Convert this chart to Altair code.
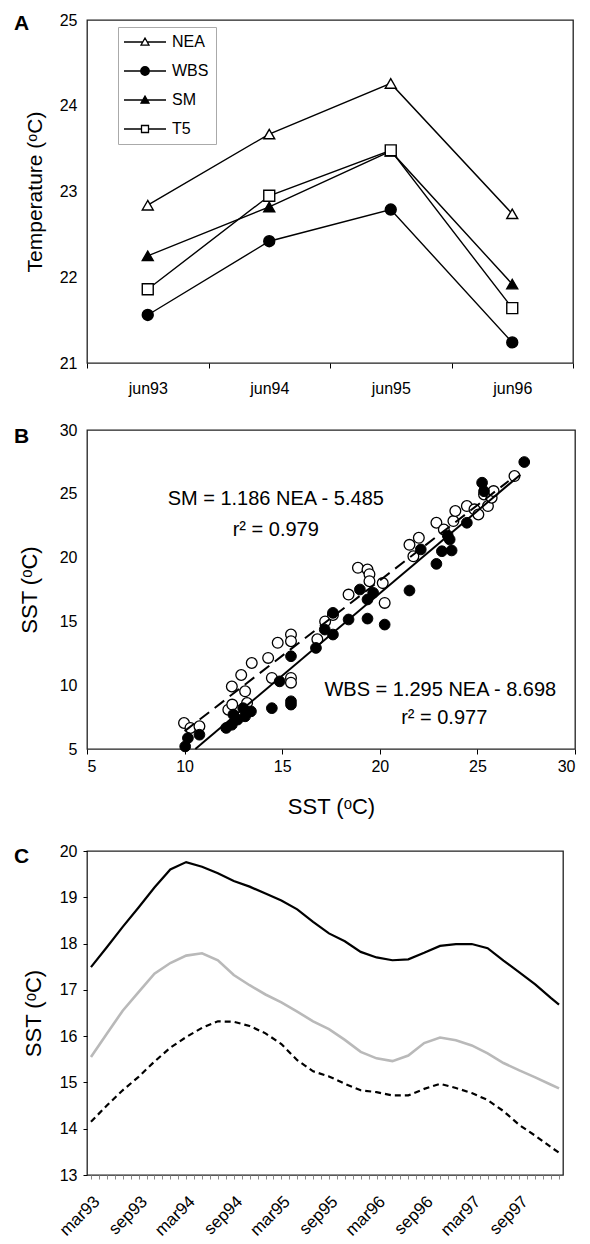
import altair as alt
import pandas as pd

FONT = "Liberation Sans"

# ---------------- Panel A data ----------------
years = ["jun93", "jun94", "jun95", "jun96"]
sites = ["NEA", "WBS", "SM", "T5"]
nea_a = [22.84, 23.67, 24.26, 22.74]
wbs_a = [21.56, 22.42, 22.79, 21.24]
sm_a = [22.25, 22.82, 23.47, 21.92]
t5_a = [21.86, 22.95, 23.48, 21.64]
site_shapes = ["triangle-up", "circle", "triangle-up", "square"]
site_fills = ["white", "black", "black", "white"]
site_strokes = ["black", "black", "black", "black"]
legend_paths = [
    "M-4.2,0H-0.45M0.45,0H4.2M0,-0.8L0.8,0.64L-0.8,0.64Z",
    "M-4.2,0H-0.85M0.85,0H4.2M0.85,0A0.85,0.85,0,1,1,-0.85,0A0.85,0.85,0,1,1,0.85,0Z",
    "M-4.2,0H-0.45M0.45,0H4.2M0,-0.8L0.8,0.64L-0.8,0.64Z",
    "M-4.2,0H-0.7M0.7,0H4.2M-0.7,-0.7H0.7V0.7H-0.7Z",
]
panel_letters = ["A", "B", "C"]

# ---------------- Panel B data ----------------
sm_x = [9.97, 10.3, 10.76, 12.24, 12.44, 12.42, 12.9, 13.1, 13.2, 13.44, 14.28, 14.77,
        15.45, 15.45, 14.47, 15.45, 15.45, 16.8, 17.2, 17.6, 18.4, 18.88, 19.37, 19.47,
        19.47, 20.15, 20.25, 21.52, 21.72, 22.0, 22.9, 23.28, 23.77, 23.87, 24.46, 24.85,
        25.05, 25.34, 25.54, 25.73, 25.83, 26.9]
sm_y = [7.04, 6.65, 6.78, 8.08, 8.48, 9.9, 10.8, 9.52, 8.6, 11.74, 12.14, 13.32,
        13.97, 13.45, 10.57, 10.57, 10.2, 13.6, 15.0, 15.5, 17.1, 19.2, 19.07, 18.7,
        18.15, 18.0, 16.45, 21.0, 20.1, 21.55, 22.73, 22.2, 22.86, 23.65, 24.04, 23.78,
        23.38, 24.95, 24.04, 24.69, 25.21, 26.39]
wbs_x = [10.03, 10.17, 10.76, 12.13, 12.42, 12.71, 13.1, 13.4, 13.0, 12.5, 14.47, 15.45,
         15.45, 15.45, 14.87, 16.73, 17.18, 17.6, 17.6, 18.4, 19.37, 20.25, 18.98, 19.37,
         19.66, 21.52, 22.1, 22.9, 23.18, 23.68, 23.58, 24.46, 25.24, 25.34, 27.4, 23.48]
wbs_y = [5.2, 5.86, 6.12, 6.65, 6.9, 7.3, 7.56, 7.95, 8.2, 7.7, 8.2, 8.74,
         8.48, 12.27, 10.3, 12.92, 14.36, 13.97, 15.67, 15.15, 15.22, 14.75, 17.5, 16.72,
         17.24, 17.42, 20.64, 19.51, 20.5, 20.56, 21.42, 22.73, 25.87, 25.2, 27.49, 21.73]
sm_fit_x = [10.0, 26.6]
sm_fit_y = [6.4, 26.0]
wbs_fit_x = [10.55, 27.2]
wbs_fit_y = [5.0, 26.5]
eq_text = ["SM = 1.186 NEA - 5.485", "r² = 0.979", "WBS = 1.295 NEA - 8.698", "r² = 0.977"]
eq_x = [14.67, 14.67, 23.1, 23.3]
eq_y = [24.56, 22.2, 9.65, 7.43]

# ---------------- Panel C data ----------------
month_idx = [0, 2, 4, 6, 8, 10, 12, 14, 16, 18, 20, 22, 24, 26, 28, 30, 32, 34, 36, 38,
             40, 42, 44, 46, 48, 50, 52, 54, 56, 58, 59]
black_c = [17.49, 17.92, 18.36, 18.78, 19.21, 19.60, 19.76, 19.66, 19.52, 19.35, 19.23,
           19.08, 18.93, 18.74, 18.47, 18.22, 18.05, 17.82, 17.70, 17.64, 17.66, 17.80,
           17.95, 17.99, 17.99, 17.90, 17.63, 17.38, 17.12, 16.82, 16.68]
gray_c = [15.55, 16.05, 16.55, 16.95, 17.35, 17.58, 17.74, 17.79, 17.64, 17.32, 17.10,
          16.90, 16.73, 16.53, 16.32, 16.15, 15.92, 15.66, 15.52, 15.46, 15.58, 15.85,
          15.97, 15.91, 15.80, 15.63, 15.42, 15.26, 15.11, 14.95, 14.87]
dash_c = [14.15, 14.50, 14.83, 15.12, 15.45, 15.75, 15.98, 16.18, 16.32, 16.31, 16.22,
          16.06, 15.83, 15.48, 15.24, 15.13, 14.97, 14.83, 14.79, 14.72, 14.72, 14.86,
          14.97, 14.88, 14.77, 14.62, 14.38, 14.08, 13.85, 13.60, 13.48]
month_labels = ["mar93", "sep93", "mar94", "sep94", "mar95", "sep95", "mar96", "sep96",
                "mar97", "sep97"]
n_months = 60

# ---------------- common styling ----------------
def letter(t, dx, dy):
    return alt.Chart(pd.DataFrame({"t": [t]})).mark_text(
        font=FONT, fontSize=21, fontWeight="bold", color="black", align="left",
        baseline="alphabetic").encode(text="t:N", x=alt.value(dx), y=alt.value(dy))

axis_common = dict(grid=False, domain=False, labelFont=FONT, titleFont=FONT,
                   labelColor="black", titleColor="black", tickColor="black",
                   titleFontWeight="normal")

# ---------------- Panel A ----------------
df_a = pd.DataFrame({
    "year": years * 4,
    "site": [s for s in sites for _ in years],
    "temp": nea_a + wbs_a + sm_a + t5_a,
})
xA = alt.X("year:O", sort=years,
           scale=alt.Scale(type="band", domain=years, paddingInner=0, paddingOuter=0),
           bandPosition=0.5,
           axis=alt.Axis(title=None, labelAngle=0, tickBand="extent", tickSize=5,
                         labelPadding=12, labelFontSize=16, **axis_common))
yA = alt.Y("temp:Q", scale=alt.Scale(domain=[21, 25], nice=False, zero=False),
           axis=alt.Axis(values=[21, 22, 23, 24, 25], title="Temperature (ᵒC)",
                         tickSize=0, labelPadding=10, titlePadding=14, labelFontSize=16,
                         titleFontSize=21, **axis_common))

lines_a = alt.Chart(df_a).mark_line(color="black", strokeWidth=1.4).encode(
    x=xA, y=yA, detail="site:N")
pts_layers = []
for s, shp, fl in zip(sites, site_shapes, site_fills):
    pts_layers.append(
        alt.Chart(df_a).transform_filter(alt.datum.site == s).mark_point(
            shape=shp, filled=True, fill=fl, stroke="black", strokeWidth=1.4,
            size=120, opacity=1).encode(x=xA, y=yA))

leg_props = dict(title=None, orient="none", legendX=31, legendY=7, padding=7,
                 strokeColor="#aaaaaa", fillColor="white", labelFont=FONT,
                 labelFontSize=16, labelColor="black", symbolSize=100,
                 symbolStrokeWidth=1.3, symbolOpacity=1,
                 rowPadding=13, labelOffset=19, symbolOffset=12)
# legend-only layer: marks pushed below the clipped plot area
leg_a = alt.Chart(df_a).transform_calculate(temp="datum.temp - 100").mark_point(
    filled=False, strokeWidth=1.3, size=100, clip=True).encode(
    x=xA, y=yA,
    shape=alt.Shape("site:N", scale=alt.Scale(domain=sites, range=legend_paths),
                    legend=alt.Legend(**leg_props)),
    fill=alt.Fill("site:N", scale=alt.Scale(domain=sites, range=site_fills),
                  legend=alt.Legend(**leg_props)),
    stroke=alt.Stroke("site:N", scale=alt.Scale(domain=sites, range=site_strokes),
                      legend=alt.Legend(**leg_props)))
panel_a = alt.layer(lines_a, *pts_layers, leg_a,
                    letter(panel_letters[0], -73, 10)).properties(width=486, height=343)

# ---------------- Panel B ----------------
xB_axis = alt.Axis(values=[5, 10, 15, 20, 25, 30], title="SST (ᵒC)", tickSize=5,
                   labelPadding=4, titlePadding=22, labelFontSize=16, titleFontSize=22,
                   **axis_common)
yB_axis = alt.Axis(values=[5, 10, 15, 20, 25, 30], title="SST (ᵒC)", tickSize=0,
                   labelPadding=10, titlePadding=18, labelFontSize=16, titleFontSize=22,
                   **axis_common)
scB_x = alt.Scale(domain=[5, 30], nice=False, zero=False)
scB_y = alt.Scale(domain=[5, 30], nice=False, zero=False)

df_sm = pd.DataFrame({"nea": sm_x, "val": sm_y})
df_wbs = pd.DataFrame({"nea": wbs_x, "val": wbs_y})
df_smfit = pd.DataFrame({"nea": sm_fit_x, "val": sm_fit_y})
df_wbsfit = pd.DataFrame({"nea": wbs_fit_x, "val": wbs_fit_y})
df_eq = pd.DataFrame({"nea": eq_x, "val": eq_y, "txt": eq_text})

encB = dict(x=alt.X("nea:Q", scale=scB_x, axis=xB_axis),
            y=alt.Y("val:Q", scale=scB_y, axis=yB_axis))
open_b = alt.Chart(df_sm).mark_point(shape="circle", filled=True, fill="white",
                                     stroke="black", strokeWidth=1.3, size=115,
                                     opacity=1).encode(**encB)
full_b = alt.Chart(df_wbs).mark_point(shape="circle", filled=True, fill="black",
                                      stroke="black", strokeWidth=1, size=115,
                                      opacity=1).encode(**encB)
fit_sm = alt.Chart(df_smfit).mark_line(color="black", strokeWidth=2,
                                       strokeDash=[12, 7]).encode(**encB)
fit_wbs = alt.Chart(df_wbsfit).mark_line(color="black", strokeWidth=2).encode(**encB)
eq_b = alt.Chart(df_eq).mark_text(font=FONT, fontSize=20, color="black").encode(
    text="txt:N", **encB)
panel_b = alt.layer(open_b, full_b, fit_sm, fit_wbs, eq_b,
                    letter(panel_letters[1], -73, 13)).properties(width=488, height=319)

# ---------------- Panel C ----------------
df_c = pd.DataFrame({
    "m": month_idx * 3,
    "sst": black_c + gray_c + dash_c,
    "series": ["black"] * len(month_idx) + ["gray"] * len(month_idx) + ["dash"] * len(month_idx),
})
lab_arr = "[" + ",".join("'" + s + "'" for s in month_labels) + "]"
label_expr = "datum.value % 6 == 0 ? " + lab_arr + "[datum.value / 6] : ''"
xC = alt.X("m:Q", scale=alt.Scale(domain=[-0.5, n_months - 0.5], nice=False, zero=False),
           axis=alt.Axis(values=list(range(n_months)), title=None, tickSize=4,
                         tickColor="#888888",
                         labelAngle=315, labelAlign="right", labelBaseline="top",
                         labelPadding=14, labelOverlap=False, labelBound=False,
                         labelFontSize=17, labelExpr=label_expr,
                         **{k: v for k, v in axis_common.items() if k != "tickColor"}))
yC = alt.Y("sst:Q", scale=alt.Scale(domain=[13, 20], nice=False, zero=False),
           axis=alt.Axis(values=list(range(13, 21)), title="SST (ᵒC)", tickSize=4,
                         labelPadding=6, titlePadding=14, labelFontSize=16,
                         titleFontSize=22, **axis_common))
line_black = alt.Chart(df_c).transform_filter("datum.series == 'black'").mark_line(
    color="black", strokeWidth=2.2).encode(x=xC, y=yC)
line_gray = alt.Chart(df_c).transform_filter("datum.series == 'gray'").mark_line(
    color="#b9b9b9", strokeWidth=2.6).encode(x=xC, y=yC)
line_dash = alt.Chart(df_c).transform_filter("datum.series == 'dash'").mark_line(
    color="black", strokeWidth=2.2, strokeDash=[6, 4]).encode(x=xC, y=yC)
panel_c = alt.layer(line_gray, line_dash, line_black,
                    letter(panel_letters[2], -73, 12)).properties(width=476, height=324)

chart = alt.vconcat(panel_a, panel_b, panel_c, spacing=24).properties(
    padding={"left": 5, "top": 3, "right": 5, "bottom": 0}
).configure(font=FONT, background="white").configure_view(
    stroke="#222222", strokeWidth=1.3)

chart.save("out.html", embed_options={"renderer": "svg", "actions": False})
